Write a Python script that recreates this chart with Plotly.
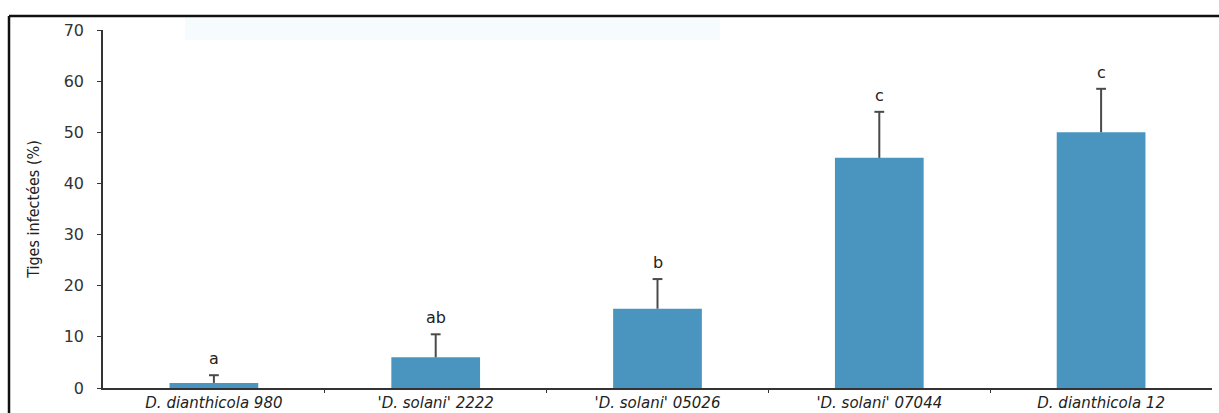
import plotly.graph_objects as go

# Souches testées et pourcentage de tiges infectées
strains = ["D. dianthicola 980", "'D. solani' 2222", "'D. solani' 05026",
           "'D. solani' 07044", "D. dianthicola 12"]
infected = [1.0, 6.0, 15.5, 45.0, 50.0]
err_up = [1.5, 4.5, 5.8, 9.0, 8.5]
groups = ["a", "ab", "b", "c", "c"]
y_ticks = [0, 10, 20, 30, 40, 50, 60, 70]

W, H = 1219, 413
L, R, T, B = 103, 7, 30, 25
pw = W - L - R
ph = H - T - B


def px_to_paper_x(px):
    return (px - L) / pw


def px_to_paper_y(py):
    return (H - B - py) / ph


xs = list(range(len(strains)))
tops = [v + e for v, e in zip(infected, err_up)]

fig = go.Figure()
fig.add_trace(go.Bar(
    x=xs, y=infected, width=0.4,
    marker=dict(color="#4a94c0", line=dict(width=0)),
    showlegend=False, hoverinfo="skip",
))

# barres d'erreur (écart supérieur uniquement)
seg_x, seg_y = [], []
for x, v, t in zip(xs, infected, tops):
    seg_x += [x, x, None]
    seg_y += [v, t, None]
fig.add_trace(go.Scatter(x=seg_x, y=seg_y, mode="lines",
                         line=dict(color="#4a4a4a", width=2),
                         showlegend=False, hoverinfo="skip"))
fig.add_trace(go.Scatter(x=xs, y=tops, mode="markers",
                         marker=dict(symbol="line-ew", size=7,
                                     line=dict(color="#4a4a4a", width=2)),
                         showlegend=False, hoverinfo="skip"))

for x, t, g in zip(xs, tops, groups):
    fig.add_annotation(x=x, y=t, text=g, showarrow=False,
                       yanchor="bottom", yshift=5,
                       font=dict(family="DejaVu Sans", size=16, color="#222"))

# cadre de la figure (bords gauche et haut)
fig.add_shape(type="line", xref="paper", yref="paper",
              x0=px_to_paper_x(9), x1=px_to_paper_x(9),
              y0=px_to_paper_y(16), y1=px_to_paper_y(H + 5),
              line=dict(color="#111", width=2.5))
fig.add_shape(type="line", xref="paper", yref="paper",
              x0=px_to_paper_x(9), x1=px_to_paper_x(W + 5),
              y0=px_to_paper_y(16), y1=px_to_paper_y(16),
              line=dict(color="#111", width=2.5))
# bandeau pâle en haut
fig.add_shape(type="rect", xref="paper", yref="paper",
              x0=px_to_paper_x(185), x1=px_to_paper_x(720),
              y0=px_to_paper_y(40), y1=px_to_paper_y(18),
              fillcolor="#f6fbfd", line=dict(width=0), layer="below")

fig.update_layout(
    width=W, height=H,
    margin=dict(l=L, r=R, t=T, b=B),
    paper_bgcolor="white", plot_bgcolor="white",
    xaxis=dict(
        range=[-0.5, 4.5], automargin=False,
        tickmode="array", tickvals=xs,
        ticktext=[f"<i>{s}</i>" for s in strains],
        showline=True, linecolor="#333", linewidth=1.5,
        ticks="", showgrid=False, zeroline=False,
        ticklabelstandoff=0,
        tickfont=dict(family="DejaVu Sans", size=15, color="#222"),
        minor=dict(tickmode="array", tickvals=[0.5, 1.5, 2.5, 3.5],
                   ticks="outside", ticklen=3, tickcolor="#333"),
    ),
    yaxis=dict(
        range=[0, 70], automargin=False,
        tickmode="array", tickvals=y_ticks,
        showline=True, linecolor="#333", linewidth=1.5,
        ticks="outside", ticklen=4, tickcolor="#333",
        showgrid=False, zeroline=False,
        ticklabelstandoff=10,
        tickfont=dict(family="DejaVu Sans", size=16, color="#333"),
        title=dict(text="Tiges infectées (%)", standoff=20,
                   font=dict(family="Liberation Sans Narrow, DejaVu Sans Condensed, sans-serif",
                             size=16, color="#222")),
    ),
)

fig.write_html("out.html")
